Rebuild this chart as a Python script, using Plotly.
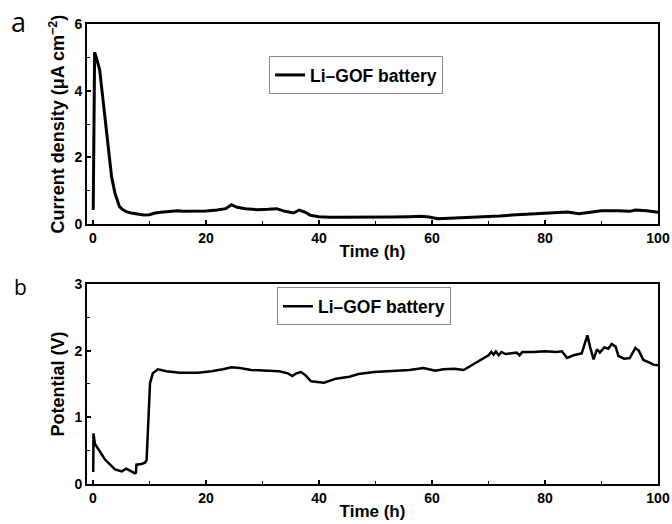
import plotly.graph_objects as go
from plotly.subplots import make_subplots

# ---- data (a): current density vs time ----
time_a = [0.05, 0.3, 0.6, 1.2, 1.6, 2.0, 2.4, 2.8, 3.3, 3.9, 4.3, 4.7, 5.2, 5.9, 7.0, 8.0, 9.0,
          10.0, 11.0, 12.0, 13.0, 14.0, 15.0, 16.0, 18.0, 20.0, 22.0, 23.5, 24.5, 25.5, 27.0,
          29.0, 31.0, 32.5, 34.0, 35.5, 36.5, 37.5, 38.5, 40.0, 42.0, 45.0, 48.0, 50.0, 53.0,
          56.0, 58.0, 59.5, 61.0, 63.0, 66.0, 69.0, 72.0, 75.0, 78.0, 81.0, 84.0, 86.0, 88.0,
          90.0, 93.0, 95.0, 96.0, 98.0, 100.0]
current_a = [0.42, 5.15, 5.0, 4.62, 4.0, 3.4, 2.72, 2.1, 1.42, 0.92, 0.7, 0.52, 0.44, 0.37, 0.32,
             0.3, 0.27, 0.28, 0.33, 0.35, 0.36, 0.38, 0.4, 0.38, 0.38, 0.39, 0.42, 0.46, 0.58,
             0.5, 0.46, 0.43, 0.44, 0.46, 0.38, 0.33, 0.42, 0.36, 0.26, 0.22, 0.2, 0.2, 0.19,
             0.2, 0.21, 0.22, 0.23, 0.21, 0.16, 0.17, 0.19, 0.21, 0.24, 0.28, 0.31, 0.34, 0.36,
             0.31, 0.36, 0.4, 0.4, 0.38, 0.42, 0.4, 0.35]

# ---- data (b): potential vs time ----
time_b = [0.05, 0.1, 0.35, 0.8, 1.3, 2.1, 3.0, 3.9, 5.1, 5.6, 5.9, 6.8, 7.4, 7.6, 7.7, 8.6, 9.2,
          9.5, 9.8, 10.1, 10.6, 11.5, 13.0, 15.4, 18.6, 21.0, 23.0, 24.5, 26.0, 28.0, 31.0,
          33.0, 34.5, 35.3, 36.0, 36.8, 37.5, 38.6, 40.9, 43.0, 45.4, 47.0, 49.8, 53.0, 56.0,
          58.5, 60.6, 62.0, 64.0, 65.6, 67.0, 68.5, 70.0, 70.5, 70.9, 71.3, 71.8, 72.3, 73.0,
          74.0, 75.0, 75.5, 76.0, 78.0, 80.0, 82.0, 83.0, 83.9, 85.0, 86.5, 87.5, 88.0, 88.6,
          89.2, 89.7, 90.5, 91.2, 91.8, 92.5, 93.0, 94.0, 95.0, 96.0, 96.6, 97.4, 98.5, 99.2,
          100.0]
potential_b = [0.18, 0.76, 0.6, 0.55, 0.48, 0.37, 0.29, 0.22, 0.19, 0.21, 0.23, 0.19, 0.16, 0.17,
               0.29, 0.3, 0.32, 0.36, 0.86, 1.51, 1.66, 1.72, 1.69, 1.67, 1.67, 1.69, 1.72, 1.75,
               1.74, 1.71, 1.7, 1.69, 1.66, 1.62, 1.66, 1.68, 1.64, 1.54, 1.52, 1.58, 1.61, 1.65,
               1.68, 1.69, 1.71, 1.74, 1.7, 1.72, 1.73, 1.71, 1.78, 1.85, 1.93, 1.98, 1.94, 1.99,
               1.93, 1.98, 1.95, 1.96, 1.97, 1.93, 1.98, 1.98, 1.99, 1.98, 1.99, 1.89, 1.93, 1.96,
               2.23, 2.05, 1.87, 2.02, 1.97, 2.05, 2.03, 2.1, 2.06, 1.92, 1.88, 1.89, 2.04, 2.0,
               1.86, 1.82, 1.79, 1.78]

series_name = "Li–GOF battery"
x_ticks = [0, 20, 40, 60, 80, 100]

FONT = "Liberation Sans, Arial, sans-serif"

fig = make_subplots(rows=2, cols=1, vertical_spacing=0.13)

fig.add_trace(go.Scatter(x=time_a, y=current_a, mode="lines", name=series_name,
                         line=dict(color="black", width=3), legend="legend",
                         showlegend=True), row=1, col=1)
fig.add_trace(go.Scatter(x=time_b, y=potential_b, mode="lines", name=series_name,
                         line=dict(color="black", width=2.5), legend="legend2",
                         showlegend=True), row=2, col=1)

tickfont = dict(family=FONT, size=14, color="black", weight="bold")
xtitlefont = dict(family=FONT, size=17, color="black", weight="bold")
ytitlefont = dict(family=FONT, size=18, color="black", weight="bold")

common_x = dict(range=[-1.05, 100], tickvals=x_ticks, ticks="inside", ticklen=4, tickwidth=1.5,
                tickcolor="black", minor=dict(ticks="inside", ticklen=3, dtick=10, tick0=0,
                                              tickcolor="black", tickwidth=1.2),
                showline=True, linecolor="black", linewidth=1.8, mirror=True, showgrid=False,
                zeroline=False, tickfont=tickfont, automargin=False)
common_y = dict(ticks="inside", ticklen=4, tickwidth=1.5, tickcolor="black",
                showline=True, linecolor="black", linewidth=1.8, mirror=True, showgrid=False,
                zeroline=False, tickfont=tickfont, automargin=False)

fig.update_xaxes(**common_x, title=dict(text="Time (h)", font=xtitlefont, standoff=0), row=1, col=1)
fig.update_xaxes(**common_x, title=dict(text="Time (h)", font=xtitlefont, standoff=0), row=2, col=1)
fig.update_yaxes(**common_y, range=[0, 6], dtick=2,
                 minor=dict(ticks="inside", ticklen=3, dtick=1, tickcolor="black", tickwidth=1.2),
                 title=dict(text="Current density (μA cm<sup>−2</sup>)", font=ytitlefont, standoff=5),
                 row=1, col=1)
fig.update_yaxes(**common_y, range=[0, 3], dtick=1,
                 minor=dict(ticks="inside", ticklen=3, dtick=0.5, tickcolor="black", tickwidth=1.2),
                 title=dict(text="Potential (V)", font=ytitlefont, standoff=5),
                 row=2, col=1)

legend_font = dict(family=FONT, size=17.5, color="black", weight="bold")

fig.update_layout(
    width=672, height=524,
    margin=dict(l=87, r=14, t=24, b=40, autoexpand=False),
    paper_bgcolor="white", plot_bgcolor="white",
    showlegend=True,
    xaxis=dict(domain=[0, 1]), xaxis2=dict(domain=[0, 1]),
    yaxis=dict(domain=[0.5652, 1.0]), yaxis2=dict(domain=[0.0, 0.4348]),
    legend=dict(x=0.3188, y=0.889, xanchor="left", yanchor="middle", bgcolor="white",
                bordercolor="#8a8a8a", borderwidth=1, itemwidth=30, font=legend_font),
    legend2=dict(x=0.3327, y=0.3859, xanchor="left", yanchor="middle", bgcolor="white",
                 bordercolor="#8a8a8a", borderwidth=1, itemwidth=30, font=legend_font),
)

fig.add_annotation(text="a", xref="paper", yref="paper", x=-0.12, y=1.0054, xanchor="center",
                   yanchor="middle", showarrow=False,
                   font=dict(family="Open Sans, sans-serif", size=27, color="black"))
fig.add_annotation(text="b", xref="paper", yref="paper", x=-0.1165, y=0.4283, xanchor="center",
                   yanchor="middle", showarrow=False,
                   font=dict(family="Open Sans, sans-serif", size=21, color="black"))

fig.write_html("out.html")
